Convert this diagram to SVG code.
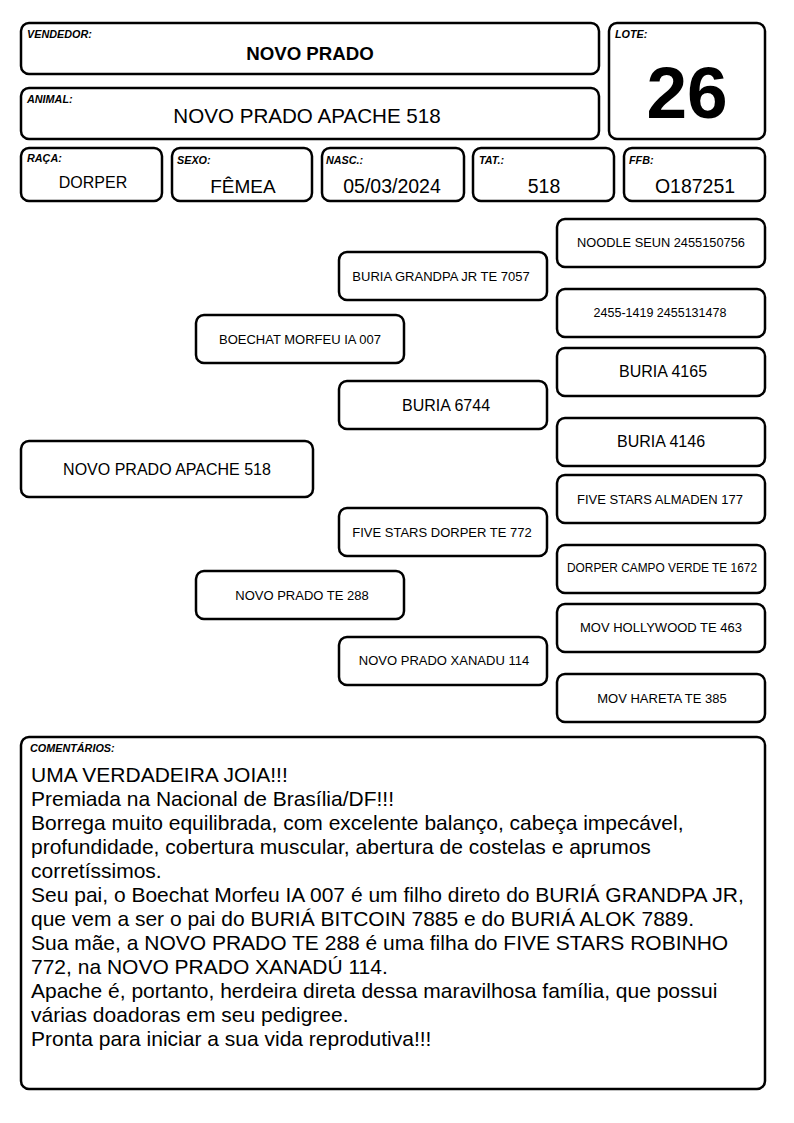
<svg xmlns="http://www.w3.org/2000/svg" width="794" height="1123" viewBox="0 0 794 1123">
<style>
.box{fill:#fff;stroke:#000;stroke-width:2.5}
.lbl{font-family:"Liberation Sans",Arial,sans-serif;font-size:10.8px;font-weight:bold;font-style:italic;fill:#000}
.t{font-family:"Liberation Sans",Arial,sans-serif;fill:#000;text-anchor:middle}
.c{font-family:"Liberation Sans",Arial,sans-serif;font-size:21px;fill:#000}
</style>
<rect width="794" height="1123" fill="#fff"/>
<g id="vendedor"><rect class="box" x="21" y="23" width="578" height="51" rx="8"/><text class="lbl" x="27" y="38">VENDEDOR:</text><text class="t" x="310" y="60" font-size="18.7" font-weight="bold">NOVO PRADO</text></g>
<g id="animal"><rect class="box" x="21" y="88" width="578" height="51" rx="8"/><text class="lbl" x="27" y="103">ANIMAL:</text><text class="t" x="307" y="123" font-size="20.6">NOVO PRADO APACHE 518</text></g>
<g id="lote"><rect class="box" x="609" y="23" width="156" height="116" rx="8"/><text class="lbl" x="615" y="38">LOTE:</text><text class="t" x="687" y="118" font-size="73" font-weight="bold">26</text></g>
<g id="raca"><rect class="box" x="21" y="148" width="141" height="53" rx="8"/><text class="lbl" x="27" y="162">RAÇA:</text><text class="t" x="93" y="188" font-size="16">DORPER</text></g>
<g id="sexo"><rect class="box" x="172" y="148" width="140" height="53" rx="8"/><text class="lbl" x="177" y="164">SEXO:</text><text class="t" x="243" y="193" font-size="19">FÊMEA</text></g>
<g id="nasc"><rect class="box" x="322" y="148" width="142" height="53" rx="8"/><text class="lbl" x="326" y="164">NASC.:</text><text class="t" x="392" y="193" font-size="19.5">05/03/2024</text></g>
<g id="tat"><rect class="box" x="473" y="148" width="141" height="53" rx="8"/><text class="lbl" x="479" y="164">TAT.:</text><text class="t" x="544" y="193" font-size="19.5">518</text></g>
<g id="ffb"><rect class="box" x="624" y="148" width="141" height="53" rx="8"/><text class="lbl" x="629" y="164">FFB:</text><text class="t" x="695" y="193" font-size="19.5">O187251</text></g>
<g id="connectors"></g>
<g id="n-apache"><rect class="box" x="21" y="441" width="292" height="56" rx="8"/><text class="t" x="167" y="475" font-size="16">NOVO PRADO APACHE 518</text></g>
<g id="n-boechat"><rect class="box" x="196" y="315" width="208" height="48" rx="8"/><text class="t" x="300" y="344" font-size="13">BOECHAT MORFEU IA 007</text></g>
<g id="n-te288"><rect class="box" x="196" y="571" width="208" height="48" rx="8"/><text class="t" x="302" y="600" font-size="13">NOVO PRADO TE 288</text></g>
<g id="n-grandpa"><rect class="box" x="339" y="252" width="208" height="48" rx="8"/><text class="t" x="441" y="281" font-size="13">BURIA GRANDPA JR TE 7057</text></g>
<g id="n-6744"><rect class="box" x="339" y="381" width="208" height="48" rx="8"/><text class="t" x="446" y="411" font-size="16">BURIA 6744</text></g>
<g id="n-fivestars"><rect class="box" x="339" y="508" width="208" height="48" rx="8"/><text class="t" x="442" y="537" font-size="13">FIVE STARS DORPER TE 772</text></g>
<g id="n-xanadu"><rect class="box" x="339" y="637" width="208" height="48" rx="8"/><text class="t" x="444" y="665" font-size="13">NOVO PRADO XANADU 114</text></g>
<g id="n-noodle"><rect class="box" x="557" y="219" width="208" height="48" rx="8"/><text class="t" x="661" y="247" font-size="12.8">NOODLE SEUN 2455150756</text></g>
<g id="n-2455"><rect class="box" x="557" y="289" width="208" height="48" rx="8"/><text class="t" x="660" y="317" font-size="12.5">2455-1419 2455131478</text></g>
<g id="n-4165"><rect class="box" x="557" y="348" width="208" height="48" rx="8"/><text class="t" x="663" y="377" font-size="16">BURIA 4165</text></g>
<g id="n-4146"><rect class="box" x="557" y="418" width="208" height="48" rx="8"/><text class="t" x="661" y="447" font-size="16">BURIA 4146</text></g>
<g id="n-almaden"><rect class="box" x="557" y="475" width="208" height="48" rx="8"/><text class="t" x="660" y="504" font-size="13">FIVE STARS ALMADEN 177</text></g>
<g id="n-campoverde"><rect class="box" x="557" y="545" width="208" height="48" rx="8"/><text class="t" x="662" y="572" font-size="11.9">DORPER CAMPO VERDE TE 1672</text></g>
<g id="n-hollywood"><rect class="box" x="557" y="604" width="208" height="48" rx="8"/><text class="t" x="661" y="632" font-size="13">MOV HOLLYWOOD TE 463</text></g>
<g id="n-hareta"><rect class="box" x="557" y="674" width="208" height="48" rx="8"/><text class="t" x="662" y="703" font-size="13">MOV HARETA TE 385</text></g>
<g id="comentarios"><rect class="box" x="21" y="737" width="744" height="352" rx="8"/><text class="lbl" x="30" y="752">COMENTÁRIOS:</text>
<text class="c" x="31" y="782">UMA VERDADEIRA JOIA!!!</text>
<text class="c" x="31" y="806">Premiada na Nacional de Brasília/DF!!!</text>
<text class="c" x="31" y="830">Borrega muito equilibrada, com excelente balanço, cabeça impecável,</text>
<text class="c" x="31" y="854">profundidade, cobertura muscular, abertura de costelas e aprumos</text>
<text class="c" x="31" y="878">corretíssimos.</text>
<text class="c" x="31" y="902">Seu pai, o Boechat Morfeu IA 007 é um filho direto do BURIÁ GRANDPA JR,</text>
<text class="c" x="31" y="926">que vem a ser o pai do BURIÁ BITCOIN 7885 e do BURIÁ ALOK 7889.</text>
<text class="c" x="31" y="950">Sua mãe, a NOVO PRADO TE 288 é uma filha do FIVE STARS ROBINHO</text>
<text class="c" x="31" y="974">772, na NOVO PRADO XANADÚ 114.</text>
<text class="c" x="31" y="998">Apache é, portanto, herdeira direta dessa maravilhosa família, que possui</text>
<text class="c" x="31" y="1022">várias doadoras em seu pedigree.</text>
<text class="c" x="31" y="1046">Pronta para iniciar a sua vida reprodutiva!!!</text>
</g>
</svg>
